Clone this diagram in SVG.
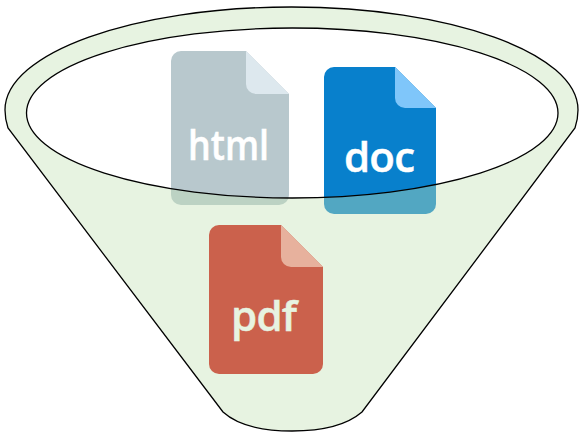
<svg xmlns="http://www.w3.org/2000/svg" width="580" height="432" viewBox="0 0 580 432">
  <style>
    .label { font-family: "Open Sans", "Noto Sans", sans-serif; font-weight: 600; font-size: 42px; fill: #ffffff; stroke: #ffffff; stroke-width: .5; }
    .funnel { fill: rgb(194,224,180); fill-opacity: .4; fill-rule: evenodd; stroke: none; }
    .line { fill: none; stroke: #000000; stroke-width: 1.3; }
  </style>
  <rect width="580" height="432" fill="#ffffff"/>
  <g id="html">
    <path d="M181,51H246L289,94V195a10,10 0 0 1 -10,10H181a10,10 0 0 1 -10,-10V61a10,10 0 0 1 10,-10Z" fill="#b8c8cd"/>
    <path d="M246,51L289,94H256a10,10 0 0 1 -10,-10Z" fill="#dde8ee"/>
    <text class="label" x="188" y="160" textLength="81" lengthAdjust="spacingAndGlyphs">html</text>
  </g>
  <g id="doc">
    <path d="M334,67H395L436,108V204a10,10 0 0 1 -10,10H334a10,10 0 0 1 -10,-10V77a10,10 0 0 1 10,-10Z" fill="#0880cc"/>
    <path d="M395,67L436,108H405a10,10 0 0 1 -10,-10Z" fill="#7fc6fa"/>
    <text class="label" x="344" y="172" textLength="71" lengthAdjust="spacing">doc</text>
  </g>
  <g id="pdf">
    <path d="M219,225H281L323,267V364a10,10 0 0 1 -10,10H219a10,10 0 0 1 -10,-10V235a10,10 0 0 1 10,-10Z" fill="#d00d07"/>
    <path d="M281,225L323,267H291a10,10 0 0 1 -10,-10Z" fill="#ff918e"/>
    <text class="label" x="231" y="331" textLength="66" lengthAdjust="spacing">pdf</text>
  </g>
  <g id="funnel">
    <path class="funnel" d="M8,128C6,122 5,116 5,110C5,53 133,7 291.500,7C450,7 578,53 578,110C578,116 577,122 575,128L362,412Q340,431 292,431Q244,431 223,412ZM26.500,113C26.500,160 145,198 292,198C439,198 558,160 558,113C558,66 439,28 292,28C145,28 26.500,66 26.500,113Z"/>
  </g>
  <g id="connectors">
    <path class="line" d="M8,128C6,122 5,116 5,110C5,53 133,7 291.500,7C450,7 578,53 578,110C578,116 577,122 575,128L362,412Q340,431 292,431Q244,431 223,412Z"/>
    <ellipse class="line" cx="292.250" cy="113" rx="265.750" ry="85"/>
  </g>
</svg>
